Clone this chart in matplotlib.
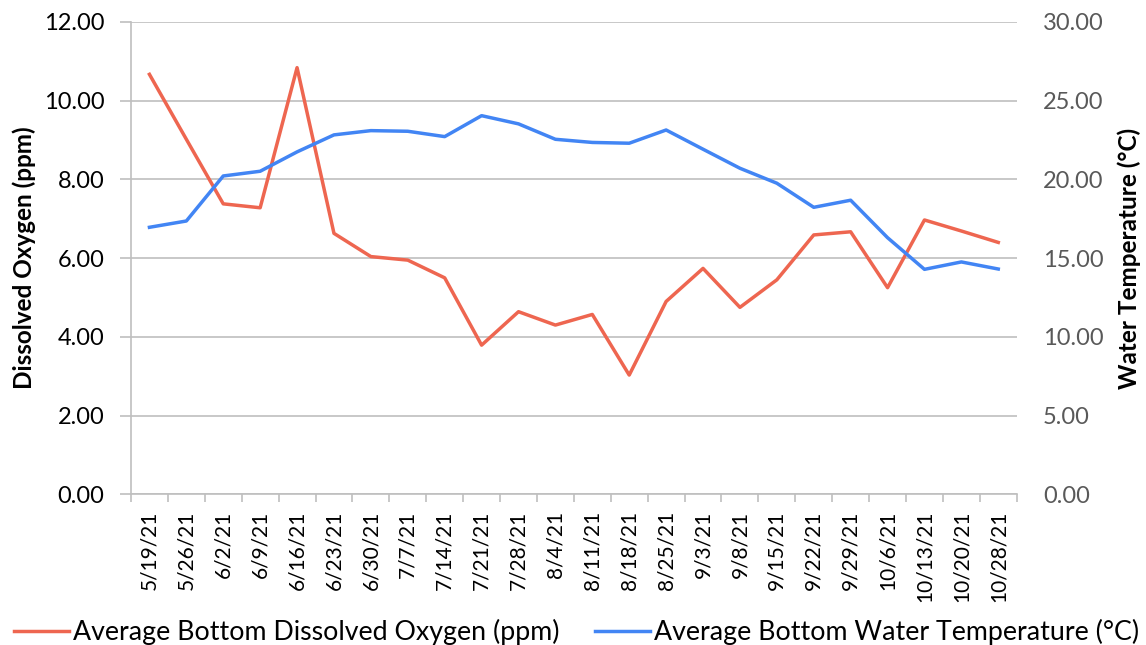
import numpy as np
import matplotlib
matplotlib.use("Agg")
import matplotlib.pyplot as plt

plt.rcParams['font.family'] = ['Lato', 'DejaVu Sans']

# Datas de amostragem
datas = ["5/19/21", "5/26/21", "6/2/21", "6/9/21", "6/16/21", "6/23/21", "6/30/21",
         "7/7/21", "7/14/21", "7/21/21", "7/28/21", "8/4/21", "8/11/21", "8/18/21",
         "8/25/21", "9/3/21", "9/8/21", "9/15/21", "9/22/21", "9/29/21", "10/6/21",
         "10/13/21", "10/20/21", "10/28/21"]

# Oxigenio dissolvido medio no fundo (ppm)
oxigenio = [10.67, 9.02, 7.38, 7.28, 10.84, 6.63, 6.04, 5.95, 5.50, 3.79, 4.64, 4.30,
            4.57, 3.03, 4.90, 5.74, 4.75, 5.45, 6.59, 6.67, 5.25, 6.97, 6.69, 6.40]

# Temperatura media da agua no fundo (C)
temperatura = [16.96, 17.36, 20.22, 20.52, 21.75, 22.83, 23.10, 23.06, 22.72, 24.05,
               23.53, 22.55, 22.35, 22.30, 23.14, 21.92, 20.71, 19.76, 18.23, 18.68,
               16.30, 14.29, 14.76, 14.31]

cor_ox = '#EE6650'
cor_temp = '#4285F4'
cinza = '#BFBFBF'

fig = plt.figure(figsize=(11.46, 6.45), dpi=100)
ax = fig.add_axes([0.1143, 0.2336, 0.7729, 0.7323])
ax2 = ax.twinx()

x = np.arange(len(datas))
l1, = ax.plot(x, oxigenio, color=cor_ox, linewidth=2.5, solid_joinstyle='round',
              label='Average Bottom Dissolved Oxygen (ppm)')
l2, = ax2.plot(x, temperatura, color=cor_temp, linewidth=2.5, solid_joinstyle='round',
               label='Average Bottom Water Temperature (°C)')

# Eixo esquerdo
ax.set_ylim(0, 12)
ax.set_yticks(np.arange(0, 12.1, 2))
ax.set_yticklabels([f"{v:.2f}" for v in np.arange(0, 12.1, 2)], fontsize=17, color='black')
ax.grid(True, axis='y', color=cinza, linewidth=1.2)
ax.set_axisbelow(True)
ax.tick_params(axis='y', length=8, color=cinza, width=1.2, pad=11)
ax.set_ylabel('Dissolved Oxygen (ppm)', fontsize=17.5, fontweight='bold', labelpad=6)

# Eixo direito
ax2.set_ylim(0, 30)
ax2.set_yticks(np.arange(0, 30.1, 5))
ax2.set_yticklabels([f"{v:.2f}" for v in np.arange(0, 30.1, 5)], fontsize=17, color='#595959')
ax2.tick_params(axis='y', length=0, pad=19)
ax2.set_ylabel('Water Temperature (°C)', fontsize=17.5, fontweight='bold', labelpad=10)

# Eixo x
ax.set_xlim(-0.5, len(datas) - 0.5)
ax.set_xticks(x)
ax.set_xticklabels(datas, rotation=90, fontsize=15)
ax.tick_params(axis='x', which='major', length=0, pad=12)
ax.set_xticks(np.arange(-0.5, len(datas), 1), minor=True)
ax.tick_params(axis='x', which='minor', length=6, color=cinza, width=1.2)

for a in (ax, ax2):
    a.spines['top'].set_visible(False)
    a.spines['right'].set_visible(False)
ax2.spines['left'].set_visible(False)
ax2.spines['bottom'].set_visible(False)
ax.spines['left'].set_color(cinza)
ax.spines['bottom'].set_color(cinza)
ax.spines['left'].set_linewidth(1.2)
ax.spines['bottom'].set_linewidth(1.2)

fig.legend(handles=[l1, l2], loc='lower center', bbox_to_anchor=(0.503, -0.038), ncol=2,
           frameon=False, fontsize=19.3, handlelength=2.05, handletextpad=0.15, columnspacing=1.3)

fig.savefig('out.png', dpi=100)
